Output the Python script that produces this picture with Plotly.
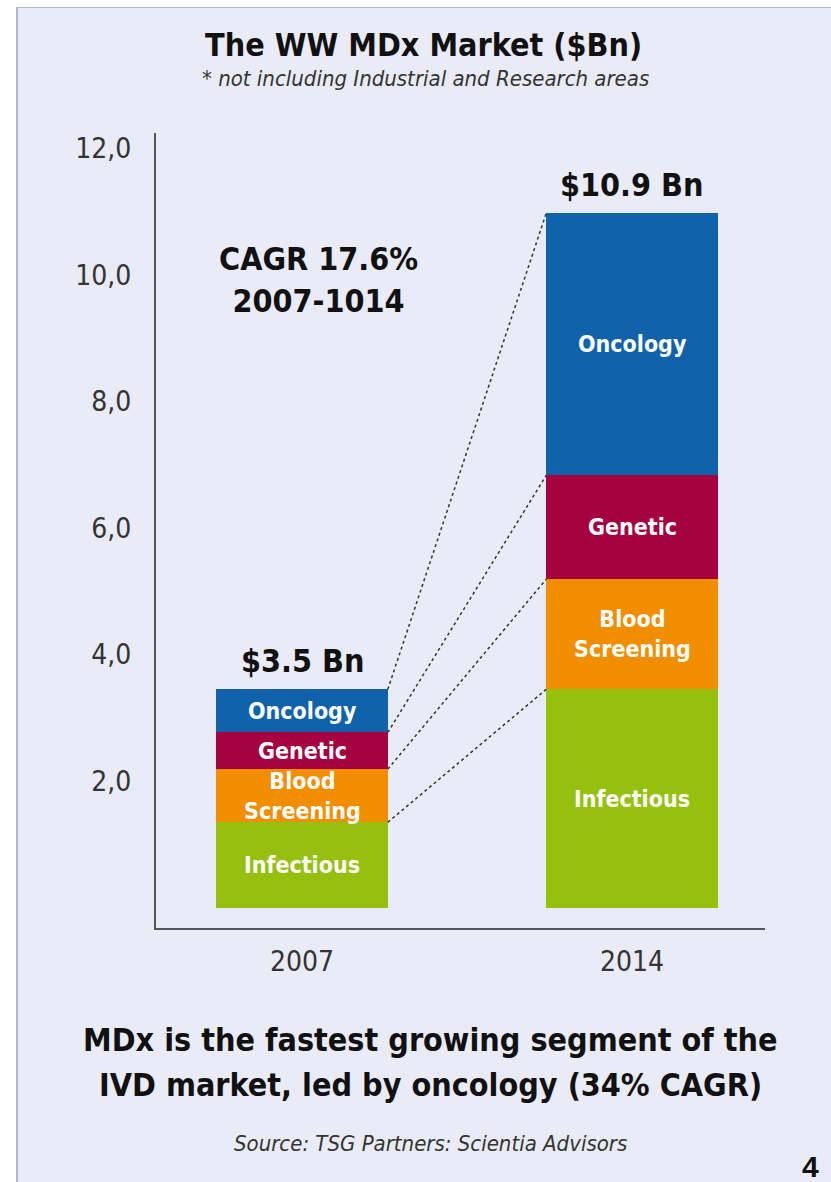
import plotly.graph_objects as go

# ---------------- data ----------------
years = ["2007", "2014"]
segments = ["Infectious", "Blood Screening", "Genetic", "Oncology"]
values_2007 = [1.35, 0.84, 0.58, 0.68]
values_2014 = [3.45, 1.74, 1.64, 4.14]
totals_labels = ["$3.5 Bn", "$10.9 Bn"]
y_ticks = [2, 4, 6, 8, 10, 12]
y_tick_labels = ["2,0", "4,0", "6,0", "8,0", "10,0", "12,0"]
colors = ["#96c00e", "#f18e00", "#a50040", "#1062aa"]

# ---------------- style ----------------
W, H = 831, 1182
L, R, T, B = 156, 66, 133, 254
PW, PH = W - L - R, H - T - B
PANEL = "#e9ecf6"
NARROW = "Liberation Sans Narrow, DejaVu Sans Condensed, Arial Narrow, sans-serif"
BAR_W = 0.52
xpos = [0, 1]


def px_x(px):
    return (px - L) / PW


def px_y(py):
    return (T + PH - py) / PH


def note(x, y, text, size, color="#111", bold=False, family=NARROW, **kw):
    fig.add_annotation(x=x, y=y, text=text, showarrow=False,
                       xanchor=kw.pop("xanchor", "center"), yanchor=kw.pop("yanchor", "middle"),
                       font=dict(family=family, size=size, color=color,
                                 weight="bold" if bold else "normal"), **kw)


fig = go.Figure()

series = [values_2007, values_2014]
for i, seg in enumerate(segments):
    fig.add_trace(go.Bar(
        x=xpos,
        y=[series[0][i], series[1][i]],
        width=BAR_W,
        name=seg,
        marker=dict(color=colors[i], line=dict(width=0)),
        hoverinfo="skip",
    ))

# cumulative levels
cum = []
for s in series:
    c = [0]
    for v in s:
        c.append(c[-1] + v)
    cum.append(c)

# segment labels (centred in each segment)
for j, xi in enumerate(xpos):
    for i, seg in enumerate(segments):
        mid = (cum[j][i] + cum[j][i + 1]) / 2
        note(xi, mid, seg.replace(" ", "<br>"), 23, color="white", bold=True,
             xref="x", yref="y")

# dotted connectors between the stacks
for k in range(1, len(cum[0])):
    fig.add_trace(go.Scatter(
        x=[xpos[0] + BAR_W / 2, xpos[1] - BAR_W / 2],
        y=[cum[0][k], cum[1][k]],
        mode="lines",
        line=dict(color="#333", width=1.5, dash="3px,3px"),
        hoverinfo="skip",
        showlegend=False,
    ))

# totals above bars
for xi, c, lab in zip(xpos, cum, totals_labels):
    note(xi, c[-1], lab, 32, bold=True, xref="x", yref="y", yanchor="bottom", yshift=7)

# CAGR note
note(px_x(318), px_y(280), "CAGR 17.6%<br>2007-1014", 32, bold=True, xref="paper", yref="paper")

# panel background and borders
fig.add_shape(type="rect", xref="paper", yref="paper", layer="below",
              x0=px_x(16), x1=px_x(840), y0=px_y(1195), y1=px_y(7),
              fillcolor=PANEL, line=dict(width=0))
fig.add_shape(type="line", xref="paper", yref="paper", layer="below",
              x0=px_x(17), x1=px_x(17), y0=px_y(1195), y1=px_y(7),
              line=dict(color="#b5b8c0", width=2))
fig.add_shape(type="line", xref="paper", yref="paper", layer="below",
              x0=px_x(16), x1=px_x(840), y0=px_y(7.5), y1=px_y(7.5),
              line=dict(color="#b5b8c0", width=1))

# titles and footer
note(px_x(423), px_y(45), "The WW MDx Market ($Bn)", 32, bold=True, xref="paper", yref="paper")
note(px_x(425), px_y(78), "<i>* not including Industrial and Research areas</i>", 22,
     color="#333", xref="paper", yref="paper")
note(px_x(430), px_y(1040), "MDx is the fastest growing segment of the", 32, bold=True,
     xref="paper", yref="paper")
note(px_x(430), px_y(1085), "IVD market, led by oncology (34% CAGR)", 32, bold=True,
     xref="paper", yref="paper")
note(px_x(430), px_y(1143), "<i>Source: TSG Partners: Scientia Advisors</i>", 22,
     color="#333", xref="paper", yref="paper")
note(px_x(810), px_y(1166), "4", 30, bold=True, family="Liberation Sans, Arial, sans-serif",
     xref="paper", yref="paper")

fig.update_layout(
    width=W, height=H,
    margin=dict(l=L, r=R, t=T, b=B, pad=0),
    barmode="stack",
    bargap=0,
    showlegend=False,
    paper_bgcolor="white",
    plot_bgcolor="rgba(0,0,0,0)",
    xaxis=dict(range=[(L - 302) / 330, (L + PW - 302) / 330],
               tickmode="array", tickvals=xpos, ticktext=years,
               showline=True, linecolor="#555", linewidth=2,
               showgrid=False, zeroline=False, ticks="",
               ticklabelstandoff=7,
               tickfont=dict(family=NARROW, size=28, color="#333")),
    yaxis=dict(range=[-0.32, 12.24],
               tickmode="array", tickvals=y_ticks, ticktext=y_tick_labels,
               showline=True, linecolor="#555", linewidth=2,
               showgrid=False, zeroline=False, ticks="",
               ticklabelstandoff=17,
               tickfont=dict(family=NARROW, size=28, color="#333")),
)

fig.write_html("out.html", config={"displayModeBar": False},
               post_script="document.body.style.margin='0';document.body.style.overflow='hidden';")
